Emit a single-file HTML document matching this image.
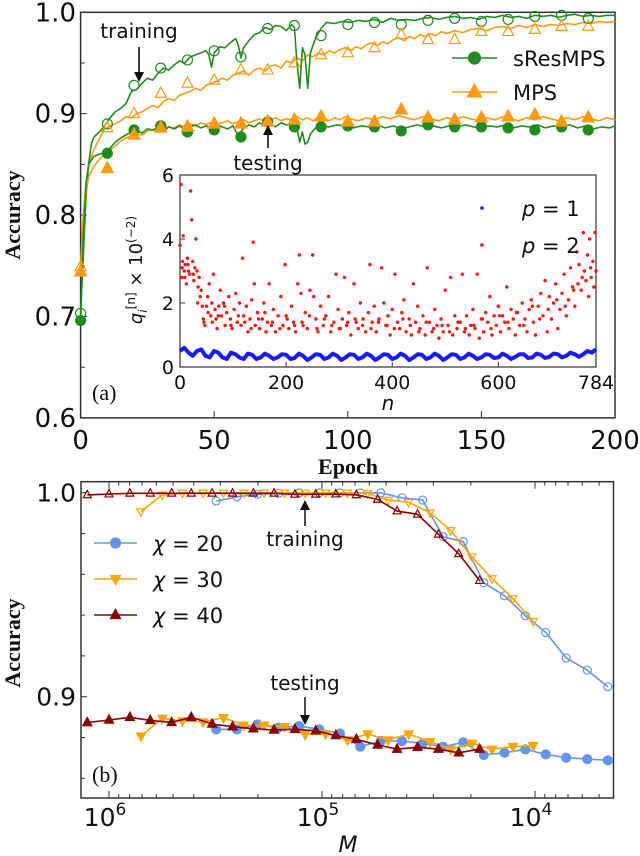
<!DOCTYPE html>
<html><head><meta charset="utf-8"><style>
body{margin:0;background:#fff}
svg{display:block}
text{font-family:"DejaVu Sans","Liberation Sans",sans-serif}
.serif{font-family:"Liberation Serif","DejaVu Serif",serif}
</style></head><body>
<svg id="fig" width="640" height="856" viewBox="0 0 640 856" xmlns="http://www.w3.org/2000/svg">
<g id="panelA"></g>
<g id="inset"></g>
<g id="panelB"></g>
</svg>
<script>
// ---------- Panel (a) data ----------
const resTrainE=[0,1,2,3,4,5,7,9,11,13,15,17,19,21,23,25,27,29,31,33,35,37,39,41,43,45,47,48,49,50,52,54,56,58,59,60,61,63,65,67,69,71,73,75,77,79,80,81,82,83,84,85,86,88,90,92,95,98,101,104,107,110,113,116,119,122,125,128,131,134,137,140,143,146,149,152,155,158,161,164,167,170,173,176,179,182,185,188,191,194,197,200];
const resTrainA=[0.703,0.76,0.815,0.85,0.87,0.877,0.882,0.888,0.896,0.902,0.905,0.91,0.922,0.924,0.93,0.935,0.933,0.94,0.945,0.943,0.948,0.952,0.95,0.956,0.958,0.96,0.962,0.958,0.946,0.96,0.966,0.965,0.97,0.974,0.968,0.955,0.965,0.972,0.978,0.98,0.985,0.983,0.987,0.986,0.982,0.988,0.985,0.95,0.925,0.965,0.958,0.925,0.96,0.975,0.984,0.99,0.989,0.991,0.99,0.992,0.991,0.993,0.99,0.994,0.992,0.993,0.992,0.994,0.995,0.993,0.995,0.996,0.994,0.995,0.993,0.996,0.995,0.997,0.995,0.996,0.994,0.997,0.996,0.997,0.995,0.997,0.998,0.996,0.997,0.996,0.997,0.997];
const mpsTrainE=[0,1,2,3,5,7,9,11,13,15,17,19,21,23,25,27,29,31,33,35,37,39,41,43,45,47,49,51,53,55,57,59,61,63,65,67,69,71,73,75,77,79,81,83,85,87,89,91,93,95,97,99,101,103,105,107,109,111,113,115,117,119,121,123,125,127,129,131,133,135,137,140,143,146,149,152,155,158,161,164,167,170,173,176,179,182,185,188,191,194,197,200];
const mpsTrainA=[0.75,0.8,0.83,0.85,0.865,0.875,0.885,0.888,0.89,0.893,0.897,0.896,0.9,0.902,0.905,0.908,0.906,0.912,0.915,0.913,0.918,0.92,0.922,0.925,0.923,0.928,0.93,0.932,0.935,0.933,0.938,0.94,0.942,0.938,0.943,0.945,0.942,0.947,0.948,0.945,0.952,0.95,0.955,0.952,0.958,0.956,0.96,0.958,0.962,0.96,0.963,0.965,0.962,0.966,0.964,0.968,0.97,0.967,0.971,0.969,0.973,0.975,0.972,0.976,0.974,0.978,0.976,0.979,0.977,0.981,0.979,0.982,0.98,0.983,0.984,0.982,0.985,0.986,0.984,0.987,0.985,0.988,0.986,0.988,0.987,0.989,0.988,0.99,0.989,0.991,0.99,0.991];
const resTestE=[0,1,2,3,5,7,9,11,13,15,17,19,21,23,25,27,29,31,33,35,37,39,41,43,45,47,49,51,53,55,57,59,61,63,65,67,69,71,73,75,77,79,81,82,83,84,85,86,88,90,93,96,99,102,105,108,111,114,117,120,123,126,129,132,135,138,141,144,147,150,153,156,159,162,165,168,171,174,177,180,183,186,189,192,195,198,200];
const resTestA=[0.696,0.78,0.83,0.85,0.858,0.86,0.862,0.866,0.872,0.876,0.879,0.882,0.883,0.881,0.885,0.884,0.886,0.883,0.887,0.885,0.888,0.884,0.887,0.889,0.886,0.888,0.885,0.889,0.887,0.885,0.888,0.878,0.886,0.889,0.887,0.891,0.888,0.89,0.887,0.891,0.889,0.89,0.885,0.872,0.882,0.87,0.872,0.88,0.886,0.888,0.887,0.889,0.888,0.886,0.888,0.887,0.889,0.886,0.888,0.885,0.887,0.889,0.887,0.888,0.886,0.888,0.887,0.889,0.887,0.886,0.888,0.887,0.889,0.886,0.888,0.887,0.889,0.886,0.888,0.887,0.889,0.886,0.888,0.885,0.887,0.886,0.888];
const mpsTestE=[0,1,2,3,5,7,9,11,13,15,17,19,21,23,25,27,29,31,33,35,37,39,41,43,45,47,49,51,53,55,57,59,61,63,65,67,69,71,73,75,77,79,81,83,85,87,89,91,93,95,97,99,101,104,107,110,113,116,119,122,125,128,131,134,137,140,143,146,149,152,155,158,161,164,167,170,173,176,179,182,185,188,191,194,197,200];
const mpsTestA=[0.744,0.79,0.82,0.838,0.848,0.855,0.86,0.864,0.868,0.873,0.876,0.878,0.88,0.879,0.883,0.884,0.882,0.885,0.887,0.886,0.889,0.887,0.89,0.888,0.891,0.889,0.892,0.89,0.891,0.893,0.89,0.892,0.894,0.891,0.893,0.895,0.892,0.894,0.896,0.893,0.895,0.894,0.897,0.894,0.896,0.893,0.897,0.895,0.893,0.896,0.894,0.897,0.895,0.893,0.896,0.894,0.897,0.895,0.898,0.896,0.894,0.897,0.895,0.893,0.896,0.894,0.897,0.895,0.893,0.896,0.894,0.897,0.895,0.893,0.896,0.894,0.897,0.895,0.893,0.896,0.894,0.897,0.895,0.893,0.896,0.894];
const markerE=[0,10,20,30,40,50,60,70,80,90,100,110,120,130,140,150,160,170,180,190];
const resTrainM=[0.703,0.89,0.928,0.945,0.953,0.962,0.956,0.984,0.987,0.977,0.988,0.99,0.988,0.992,0.994,0.991,0.993,0.996,0.997,0.994];
const mpsTrainM=[0.749,0.886,0.9,0.92,0.93,0.933,0.943,0.943,0.95,0.958,0.96,0.965,0.978,0.973,0.973,0.981,0.981,0.983,0.986,0.986];
const resTestM=[0.696,0.861,0.884,0.888,0.882,0.884,0.877,0.892,0.887,0.887,0.888,0.887,0.883,0.889,0.887,0.887,0.886,0.884,0.887,0.884];
const mpsTestM=[0.744,0.846,0.879,0.886,0.887,0.89,0.89,0.892,0.894,0.897,0.892,0.892,0.904,0.896,0.894,0.896,0.897,0.899,0.892,0.896];
const topXTicks=[0,50,100,150,200];
const topYTicks=[0.6,0.7,0.8,0.9,1.0];
// ---------- Inset data ----------
const redN=[0,2,3,5,6,8,10,12,14,16,18,20,22,24,26,28,30,32,34,36,38,40,42,45,47,50,52,55,58,60,63,66,68,70,73,76,78,82,85,88,92,95,98,102,105,108,112,115,118,120,125,128,132,135,138,140,142,146,150,155,158,162,165,168,172,176,180,185,190,194,198,200,205,210,214,218,222,225,228,232,236,240,245,250,252,256,260,265,270,275,280,284,290,294,298,302,306,310,314,318,322,328,332,336,340,345,350,355,358,362,366,370,375,380,384,388,392,396,400,405,410,414,418,422,426,432,436,440,444,448,452,458,462,466,470,475,480,484,488,492,496,500,505,510,514,518,522,528,532,536,540,545,548,552,556,560,564,568,572,576,580,584,588,592,596,600,604,608,612,616,620,624,628,632,636,640,645,650,654,658,662,666,670,675,680,684,688,692,696,700,704,708,712,716,720,724,728,732,736,740,744,748,750,752,756,760,762,765,768,770,772,775,778,780,782,784];
const redQ=[3.8,5.7,2.8,3.3,4.1,3.0,3.2,2.6,3.4,3.0,2.9,5.5,4.6,3.3,2.7,3.1,4.0,3.0,2.5,2.8,2.2,2.4,1.9,1.4,1.3,1.9,2.2,2.6,1.6,2.0,2.9,1.8,1.5,1.2,1.9,2.4,1.6,2.0,1.3,1.7,2.2,1.5,1.2,1.8,2.3,1.4,2.0,1.3,3.4,1.6,1.9,1.1,1.5,2.1,3.9,2.6,1.3,1.7,1.2,1.5,2.0,1.1,1.4,2.6,1.3,1.8,1.1,1.6,2.2,1.3,3.2,1.6,1.2,1.9,1.4,1.1,2.6,3.5,2.3,1.3,1.7,1.2,2.4,3.5,2.2,1.5,1.1,1.9,1.3,1.6,2.2,1.1,1.4,2.9,1.8,1.2,1.5,2.8,1.3,1.7,1.0,2.6,1.4,1.2,2.0,1.5,1.1,1.7,3.2,1.4,1.9,1.1,1.5,3.1,2.0,1.3,1.6,1.0,1.8,2.9,1.4,1.2,1.7,2.1,1.1,1.5,1.0,2.6,1.4,1.9,1.2,1.6,1.0,3.1,1.4,1.1,1.8,1.3,0.9,1.5,1.1,2.4,1.3,2.8,1.0,1.6,1.2,1.4,2.9,1.1,1.6,1.0,1.3,1.8,1.2,2.9,0.9,1.5,1.1,1.7,1.4,2.2,1.0,1.6,1.3,1.9,1.1,1.6,1.4,2.5,1.2,1.8,1.5,1.0,1.7,1.3,2.0,1.5,1.1,1.8,2.1,1.4,1.0,1.9,2.3,1.6,2.7,1.1,2.2,1.5,2.0,2.6,1.2,1.8,2.3,2.9,1.6,2.1,3.1,2.5,1.9,3.6,2.6,3.2,2.4,4.2,3.0,2.7,3.5,2.2,4.0,2.8,3.3,2.5,4.2,3.0];
const redN2=[4,9,15,25,33,44,53,61,72,84,96,110,122,134,148,160,174,188,202,216,230,244,258,272,286,300,316,330,344,360,374,390,404,420,434,450,464,478,494,508,524,538,554,570,586,602,618,634,648,664,678,694,710,726,742,758,774];
const redQ2=[3.1,2.8,3.2,2.9,2.0,1.5,1.7,1.4,1.6,1.9,1.3,1.6,1.4,1.2,1.5,1.7,1.4,1.2,1.5,1.3,1.4,1.6,1.2,1.5,1.3,1.2,1.4,1.5,1.3,1.2,1.4,1.3,1.2,1.5,1.3,1.1,1.4,1.2,1.3,1.1,1.4,1.2,1.3,1.5,1.2,1.6,1.4,1.7,1.3,1.9,1.5,1.8,2.1,1.9,2.4,2.8,3.1];
const blueQ=[0.5,0.6,0.45,0.35,0.5,0.55,0.35,0.3,0.5,0.45,0.3,0.25,0.45,0.4,0.3,0.25,0.42,0.38,0.25,0.3,0.42,0.35,0.25,0.3,0.4,0.38,0.25,0.28,0.42,0.35,0.22,0.3,0.4,0.38,0.25,0.3,0.42,0.35,0.22,0.3,0.4,0.38,0.25,0.3,0.42,0.35,0.22,0.3,0.4,0.38,0.25,0.3,0.42,0.35,0.22,0.3,0.4,0.38,0.25,0.3,0.42,0.35,0.22,0.3,0.4,0.38,0.25,0.3,0.42,0.35,0.25,0.3,0.4,0.38,0.28,0.3,0.42,0.35,0.25,0.32,0.4,0.4,0.28,0.3,0.42,0.38,0.28,0.32,0.42,0.4,0.3,0.35,0.45,0.4,0.32,0.4,0.5,0.45,0.55];
const insetXTicks=[0,200,400,600,784];
const insetYTicks=[0,2,4,6];
// ---------- Panel (b) data ----------
const m40=[1265000,1000000,798000,640000,508000,411000,328000,263000,210000,168000,134000,107000,86100,69000,54800,44400,35600,28400,22800,18200];
const train40=[0.9989,0.9993,0.9997,0.9997,0.9997,0.9997,0.9997,0.9997,0.9997,0.9997,0.9992,0.9992,0.9993,0.9989,0.9967,0.991,0.9894,0.9796,0.970,0.9569];
const test40=[0.8873,0.8886,0.8899,0.8884,0.8874,0.8899,0.8866,0.8853,0.8843,0.8837,0.884,0.8833,0.881,0.8791,0.8763,0.8743,0.8752,0.8743,0.8725,0.8743];
const m30=[708000,562000,452000,362000,290000,233000,187000,150000,120000,96200,76000,61000,48900,39200,31100,24900,19800,15900,12700,10200];
const train30=[0.9907,0.9989,0.9999,0.9999,0.9999,0.9999,0.9999,0.9999,0.9999,0.9999,0.9999,0.9996,0.9964,0.9953,0.9902,0.9815,0.9686,0.9579,0.9481,0.9369];
const test30=[0.8807,0.8894,0.8881,0.8876,0.8897,0.886,0.886,0.8853,0.8815,0.8817,0.8788,0.8817,0.8788,0.8817,0.8779,0.8742,0.8771,0.8742,0.8755,0.876];
const m20=[314000,251000,201000,160000,128000,103000,82400,66100,53000,42100,33700,27000,21700,17400,13900,11100,8910,7140,5680,4550];
const train20=[0.9959,0.998,0.9992,0.9997,0.9999,0.9999,0.9999,0.9999,0.9999,0.9975,0.9964,0.9784,0.976,0.9559,0.9495,0.9397,0.9315,0.919,0.913,0.9049];
const test20=[0.884,0.884,0.8864,0.8848,0.8856,0.884,0.882,0.8755,0.8783,0.8783,0.8771,0.8755,0.8776,0.8714,0.8725,0.8742,0.8717,0.8701,0.8694,0.8688];
const botYTicks=[0.9,1.0];
const botXTicks=[1000000,100000,10000];

const NS='http://www.w3.org/2000/svg';
function mk(parent,tag,attrs,txt){const e=document.createElementNS(NS,tag);for(const k in attrs)e.setAttribute(k,attrs[k]);if(txt!==undefined)e.textContent=txt;parent.appendChild(e);return e;}
const gA=document.getElementById('panelA'),gIns=document.getElementById('inset'),gB=document.getElementById('panelB');

const tx=e=>80.6+e*(615-80.6)/200;
const ty=a=>12.3+(1-a)*1014;
const ix=n=>180+n*(596-180)/784;
const iy=q=>367-q*32;
const bx=m=>322-(Math.log10(m)-5)*213;
const by=a=>492.7+(1-a)*2040;

function drawLine(g,xs,ys,fx,fy,color,w,name){
  const pts=xs.map((v,i)=>fx(v).toFixed(1)+','+fy(ys[i]).toFixed(1)).join(' ');
  const p=mk(g,'polyline',{points:pts,fill:'none',stroke:color,'stroke-width':w,'stroke-linejoin':'round'});
  
  
}
function drawMarker(g,type,x,y,r,color,filled,name){
  let e;
  const f=filled?color:'none';
  if(type==='c'){e=mk(g,'circle',{cx:x,cy:y,r:r,fill:f,stroke:color,'stroke-width':1.2});}
  else if(type==='t'){e=mk(g,'polygon',{points:`${x},${y-r*1.15} ${x-r},${y+r*0.7} ${x+r},${y+r*0.7}`,fill:f,stroke:color,'stroke-width':1.2});}
  else {e=mk(g,'polygon',{points:`${x},${y+r*1.15} ${x-r},${y-r*0.7} ${x+r},${y-r*0.7}`,fill:f,stroke:color,'stroke-width':1.2});}
  
  
}

// ===== Panel a =====
const GREEN='#1e8c1e', ORANGE='#ff9a10';
let fr=mk(gA,'rect',{x:80.6,y:12.3,width:534.4,height:405.6,fill:'none',stroke:'#333','stroke-width':1.5});


topXTicks.forEach(v=>{
  mk(gA,'line',{x1:tx(v),x2:tx(v),y1:417.9,y2:411,stroke:'#333','stroke-width':1});
  const t=mk(gA,'text',{x:tx(v),y:449,'font-size':26,'text-anchor':'middle',fill:'#111'},String(v));
  
  
});
[0.65,0.75,0.85,0.95].forEach(v=>mk(gA,'line',{x1:80.6,x2:85,y1:ty(v),y2:ty(v),stroke:'#333','stroke-width':1}));
topYTicks.forEach(v=>{
  mk(gA,'line',{x1:80.6,x2:87,y1:ty(v),y2:ty(v),stroke:'#333','stroke-width':1});
  const t=mk(gA,'text',{x:76,y:ty(v)+9,'font-size':26,'text-anchor':'end',fill:'#111'},v.toFixed(1));
  
  
});
let xl=mk(gA,'text',{x:348,y:474,'font-size':22,'font-weight':'bold','text-anchor':'middle',class:'serif',fill:'#111'},'Epoch');


let yl=mk(gA,'text',{x:0,y:0,'font-size':22,'font-weight':'bold','text-anchor':'middle',class:'serif',fill:'#111',transform:'translate(20,215) rotate(-90)'},'Accuracy');



drawLine(gA,mpsTrainE,mpsTrainA,tx,ty,ORANGE,1.6,'mps-training-line');
drawLine(gA,resTrainE,resTrainA,tx,ty,GREEN,1.6,'sresmps-training-line');
drawLine(gA,mpsTestE,mpsTestA,tx,ty,ORANGE,1.6,'mps-testing-line');
drawLine(gA,resTestE,resTestA,tx,ty,GREEN,1.6,'sresmps-testing-line');
markerE.forEach((e,i)=>{
  drawMarker(gA,'c',tx(e),ty(resTrainM[i]),5,GREEN,false,'sresmps-training-marker');
  drawMarker(gA,'t',tx(e),ty(mpsTrainM[i]),5.5,ORANGE,false,'mps-training-marker');
  drawMarker(gA,'c',tx(e),ty(resTestM[i]),5,GREEN,true,'sresmps-testing-marker');
  drawMarker(gA,'t',tx(e),ty(mpsTestM[i]),6,ORANGE,true,'mps-testing-marker');
});
let lg=mk(gA,'g',{});


mk(lg,'line',{x1:452,x2:497,y1:58,y2:58,stroke:GREEN,'stroke-width':1.6});
drawMarker(lg,'c',474.5,58,6,GREEN,true,'legend-marker-sresmps');
let lt1=mk(lg,'text',{x:513,y:66,'font-size':21,fill:'#111'},'sResMPS');


mk(lg,'line',{x1:452,x2:497,y1:92,y2:92,stroke:ORANGE,'stroke-width':1.6});
drawMarker(lg,'t',474.5,92,7,ORANGE,true,'legend-marker-mps');
let lt2=mk(lg,'text',{x:513,y:100,'font-size':21,fill:'#111'},'MPS');


let a1=mk(gA,'text',{x:139,y:38,'font-size':20,'text-anchor':'middle',fill:'#111'},'training');


mk(gA,'line',{x1:139,x2:139,y1:47,y2:76,stroke:'#111','stroke-width':1.6});
mk(gA,'polygon',{points:'134,72 144,72 139,82',fill:'#111'});
let a2=mk(gA,'text',{x:268,y:170,'font-size':20,'text-anchor':'middle',fill:'#111'},'testing');


mk(gA,'line',{x1:268,x2:268,y1:148,y2:132,stroke:'#111','stroke-width':1.6});
mk(gA,'polygon',{points:'263,135 273,135 268,125',fill:'#111'});
let pa=mk(gA,'text',{x:92,y:400,'font-size':22,class:'serif',fill:'#111'},'(a)');



// ===== Inset =====
mk(gIns,'rect',{x:180,y:175,width:416,height:192,fill:'#fff',stroke:'#333','stroke-width':1.2});
insetXTicks.forEach(v=>{
  mk(gIns,'line',{x1:ix(v),x2:ix(v),y1:367,y2:362,stroke:'#333'});
  const t=mk(gIns,'text',{x:ix(v),y:389,'font-size':19,'text-anchor':'middle',fill:'#111'},String(v));
  
  
});
insetYTicks.forEach(v=>{
  mk(gIns,'line',{x1:180,x2:185,y1:iy(v),y2:iy(v),stroke:'#333'});
  const t=mk(gIns,'text',{x:174,y:iy(v)+7,'font-size':19,'text-anchor':'end',fill:'#111'},String(v));
  
  
});
let nl=mk(gIns,'text',{x:388,y:410,'font-size':20,'font-style':'italic','text-anchor':'middle',fill:'#111'},'n');


let ql=mk(gIns,'text',{x:0,y:0,'font-size':18,'text-anchor':'middle',fill:'#111',transform:'translate(142,270) rotate(-90)'});


ql.innerHTML='<tspan font-style="italic">q</tspan><tspan font-size="12" dy="5" font-style="italic">i</tspan><tspan font-size="12" dy="-12">[n]</tspan><tspan dy="7"> × 10</tspan><tspan font-size="12" dy="-7">(−2)</tspan>';
const bpts=blueQ.map((q,i)=>ix(i*8).toFixed(1)+','+iy(q).toFixed(1)).join(' ');
let bl=mk(gIns,'polyline',{points:bpts,fill:'none',stroke:'#1a1aff','stroke-width':4,'stroke-linejoin':'round'});


redN.forEach((n,i)=>{const c=mk(gIns,'circle',{cx:ix(n),cy:iy(redQ[i]),r:1.7,fill:'#ff1010'});
  
  });
redN2.forEach((n,i)=>{const c=mk(gIns,'circle',{cx:ix(n),cy:iy(redQ2[i]),r:1.7,fill:'#ff1010'});
  
  });
mk(gIns,'circle',{cx:482,cy:208,r:1.8,fill:'#1a1aff'});
let il1=mk(gIns,'text',{x:522,y:216,'font-size':21,fill:'#111'});


il1.innerHTML='<tspan font-style="italic">p</tspan> = 1';
mk(gIns,'circle',{cx:482,cy:245,r:1.8,fill:'#ff1010'});
let il2=mk(gIns,'text',{x:522,y:253,'font-size':21,fill:'#111'});


il2.innerHTML='<tspan font-style="italic">p</tspan> = 2';

// ===== Panel b =====
const BLUE='#6495ed', YEL='#ffa500', DRED='#8b0000';
let fb=mk(gB,'rect',{x:81,y:481.7,width:532.5,height:316.3,fill:'none',stroke:'#333','stroke-width':1.5});


[0.86,0.88,0.92,0.94,0.96,0.98].forEach(v=>mk(gB,'line',{x1:81,x2:85,y1:by(v),y2:by(v),stroke:'#333'}));
botYTicks.forEach(v=>{
  mk(gB,'line',{x1:81,x2:87,y1:by(v),y2:by(v),stroke:'#333'});
  const t=mk(gB,'text',{x:76,y:by(v)+9,'font-size':25,'text-anchor':'end',fill:'#111'},v.toFixed(1));
  
  
});
for(let d=3;d<=6;d++)for(let k=1;k<10;k++){const m=k*Math.pow(10,d);const x=bx(m);if(x<81||x>613.5)continue;
  const L=k===1?7:4;mk(gB,'line',{x1:x,x2:x,y1:798,y2:798-L,stroke:'#333'});mk(gB,'line',{x1:x,x2:x,y1:481.7,y2:481.7+L,stroke:'#333'});}
botXTicks.forEach(m=>{
  const t=mk(gB,'text',{x:bx(m)-4,y:826,'font-size':25,'text-anchor':'middle',fill:'#111'});
  
  
  t.innerHTML='10<tspan font-size="17" dy="-11">'+Math.round(Math.log10(m))+'</tspan>';
});
let mx=mk(gB,'text',{x:348,y:852,'font-size':22,'font-style':'italic','text-anchor':'middle',fill:'#111'},'M');


let by2=mk(gB,'text',{x:0,y:0,'font-size':22,'font-weight':'bold','text-anchor':'middle',class:'serif',fill:'#111',transform:'translate(20,643) rotate(-90)'},'Accuracy');



const series=[[m20,train20,test20,BLUE,'c','chi20'],[m30,train30,test30,YEL,'v','chi30'],[m40,train40,test40,DRED,'t','chi40']];
series.forEach(s=>{
  drawLine(gB,s[0],s[1],bx,by,s[3],1.6,s[5]+'-training-line');
  drawLine(gB,s[0],s[2],bx,by,s[3],1.6,s[5]+'-testing-line');
  s[0].forEach((m,i)=>{
    drawMarker(gB,s[4],bx(m),by(s[1][i]),4,s[3],false,s[5]+'-training-marker');
    drawMarker(gB,s[4],bx(m),by(s[2][i]),4.5,s[3],true,s[5]+'-testing-marker');
  });
});
const legY=[543,579,615], legTxt=['20','30','40'];
series.forEach((s,i)=>{
  let g=mk(gB,'g',{});
  
  
  mk(g,'line',{x1:94,x2:137,y1:legY[i],y2:legY[i],stroke:s[3],'stroke-width':1.6});
  drawMarker(g,s[4],115.5,legY[i],5,s[3],true,'legend-marker-'+s[5]);
  const t=mk(g,'text',{x:153,y:legY[i]+8,'font-size':21,fill:'#111'});
  t.innerHTML='<tspan font-style="italic">χ</tspan> = '+legTxt[i];
});
let b1=mk(gB,'text',{x:305,y:546,'font-size':20,'text-anchor':'middle',fill:'#111'},'training');


mk(gB,'line',{x1:305,x2:305,y1:526,y2:507,stroke:'#111','stroke-width':1.5});
mk(gB,'polygon',{points:'300,510 310,510 305,500',fill:'#111'});
let b2=mk(gB,'text',{x:305,y:690,'font-size':20,'text-anchor':'middle',fill:'#111'},'testing');


mk(gB,'line',{x1:305,x2:305,y1:697,y2:718,stroke:'#111','stroke-width':1.5});
mk(gB,'polygon',{points:'300,715 310,715 305,725',fill:'#111'});
let pb=mk(gB,'text',{x:92,y:782,'font-size':22,class:'serif',fill:'#111'},'(b)');


</script>
</body></html>
